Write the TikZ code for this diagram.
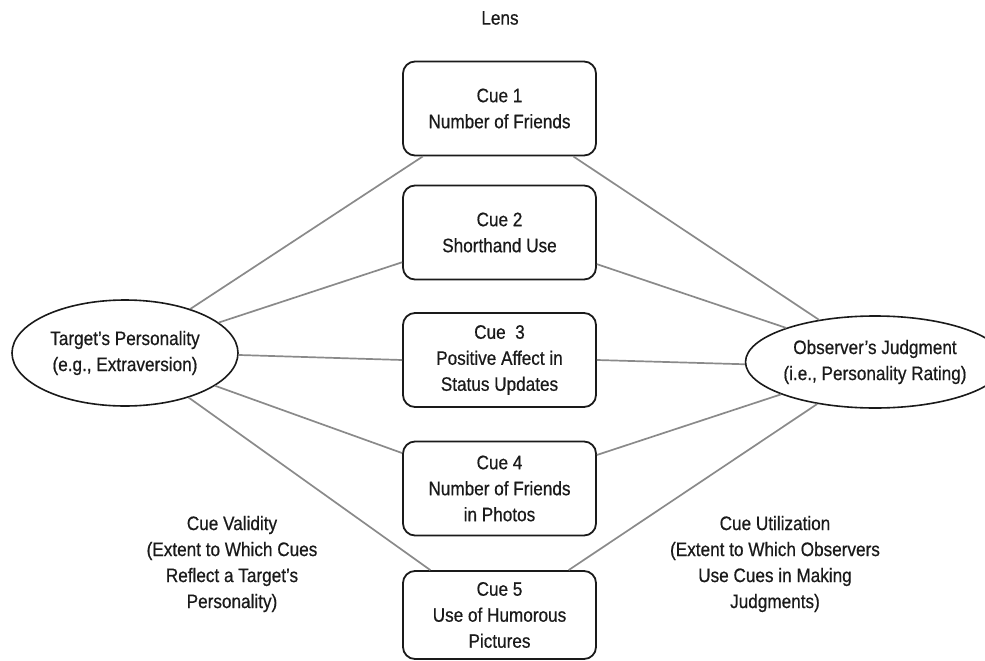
\documentclass[tikz,border=0pt]{standalone}
\usepackage{fontspec}
\setmainfont{Liberation Sans}[FakeStretch=0.88,FakeBold=0.6]
\usetikzlibrary{shapes.geometric}
\definecolor{ink}{HTML}{1A1A1A}
\definecolor{wire}{HTML}{8A8A8A}
\begin{document}
\begin{tikzpicture}[x=1pt,y=-1pt,
  every node/.style={text=ink,font=\fontsize{19.5}{26}\selectfont,align=center},
  cuebox/.style={draw=ink,line width=1.8pt,rounded corners=12pt,minimum width=193pt,minimum height=94pt,inner sep=0pt},
  oval/.style={draw=ink,line width=1.6pt,ellipse,inner sep=0pt},
  link/.style={draw=wire,line width=1.7pt}]
\useasboundingbox (0,0) rectangle (985,661);
\node (lens) at (500,18) {Lens};
\node[cuebox] (b1) at (499.5,108.5) {Cue 1\\Number of Friends};
\node[cuebox] (b2) at (499.5,232.5) {Cue 2\\Shorthand Use};
\node[cuebox] (b3) at (499.5,360) {Cue\ \ 3\\Positive Affect in\\Status Updates};
\node[cuebox] (b4) at (499.5,488.5) {Cue 4\\Number of Friends\\in Photos};
\node[cuebox,minimum height=88pt] (b5) at (499.5,615) {Cue 5\\Use of Humorous\\Pictures};
\node[oval,minimum width=226pt,minimum height=106pt] (L) at (125,353) {Target’s Personality\\(e.g., Extraversion)};
\node[oval,minimum width=214pt,minimum height=92pt] (R) at (875,362) {Observer’s Judgment\\(i.e., Personality Rating)};
\node (val) at (232,564) {Cue Validity\\(Extent to Which Cues\\Reflect a Target’s\\Personality)};
\node (uti) at (775,564) {Cue Utilization\\(Extent to Which Observers\\Use Cues in Making\\Judgments)};
\draw[link] (L.34) -- (b1.212);
\draw[link] (L.18) -- (b2.197.5);
\draw[link] (L.-1) -- (b3.west);
\draw[link] (L.-20) -- (b4.160);
\draw[link] (L.-35) -- (b5.147);
\draw[link] (b1.327) -- (R.143);
\draw[link] (b2.342) -- (R.159);
\draw[link] (b3.east) -- (R.181);
\draw[link] (b4.19) -- (R.199);
\draw[link] (b5.33) -- (R.216);
\end{tikzpicture}
\end{document}
